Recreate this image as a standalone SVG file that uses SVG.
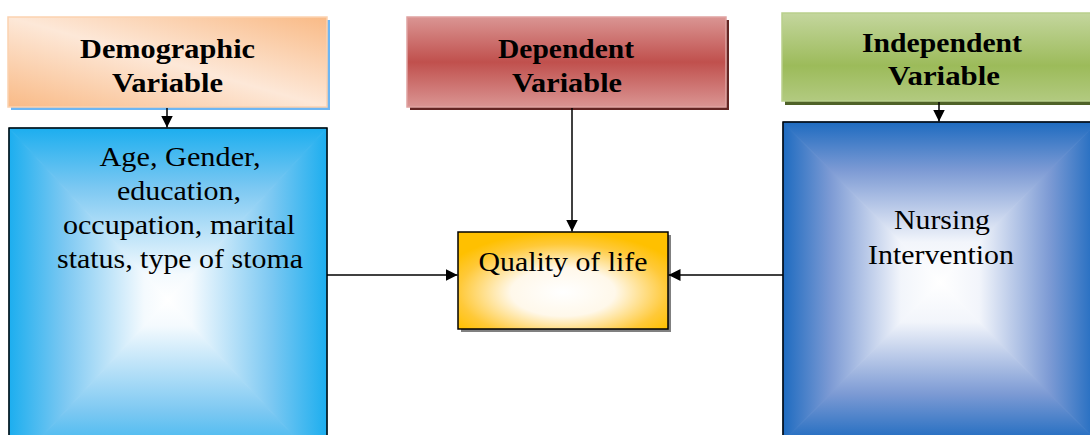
<svg xmlns="http://www.w3.org/2000/svg" width="1090" height="435" viewBox="0 0 1090 435">
<style>
.t{font-family:"Liberation Serif","Times New Roman",serif;fill:#000;text-anchor:middle}
.h{font-size:28px;font-weight:bold}
.r{font-size:27px}
.con{stroke:#000;stroke-width:1.5;fill:none}
.box{stroke:#000;stroke-width:1.5;fill:none}
</style>
<defs>
<marker id="ah" viewBox="0 0 12 12" refX="12" refY="6" markerWidth="12" markerHeight="12" markerUnits="userSpaceOnUse" orient="auto">
<path d="M0,0 L12,6 L0,12 Z" fill="#000"/>
</marker>
<linearGradient id="gDemo" x1="1" y1="0" x2="0" y2="1">
<stop offset="0" stop-color="#F9BA86"/>
<stop offset="0.5" stop-color="#FDE8D8"/>
<stop offset="1" stop-color="#F9BA86"/>
</linearGradient>
<linearGradient id="gDep" x1="0" y1="0" x2="0" y2="1">
<stop offset="0" stop-color="#DA9593"/>
<stop offset="0.5" stop-color="#C0504D"/>
<stop offset="1" stop-color="#DA9593"/>
</linearGradient>
<linearGradient id="gInd" x1="0" y1="0" x2="0" y2="1">
<stop offset="0" stop-color="#C4D69E"/>
<stop offset="0.6" stop-color="#9CBB5A"/>
<stop offset="1" stop-color="#B2CA80"/>
</linearGradient>
<linearGradient id="lbT" gradientUnits="userSpaceOnUse" x1="0" y1="128" x2="0" y2="300">
<stop offset="0" stop-color="#1CAEEF"/><stop offset="0.35" stop-color="#7CC8F2"/><stop offset="0.85" stop-color="#F4FAFE"/><stop offset="1" stop-color="#FFFFFF"/>
</linearGradient>
<linearGradient id="lbB" gradientUnits="userSpaceOnUse" x1="0" y1="472" x2="0" y2="300">
<stop offset="0" stop-color="#1CAEEF"/><stop offset="0.35" stop-color="#7CC8F2"/><stop offset="0.85" stop-color="#F4FAFE"/><stop offset="1" stop-color="#FFFFFF"/>
</linearGradient>
<linearGradient id="lbL" gradientUnits="userSpaceOnUse" x1="9" y1="0" x2="168" y2="0">
<stop offset="0" stop-color="#1CAEEF"/><stop offset="0.35" stop-color="#7CC8F2"/><stop offset="0.85" stop-color="#F4FAFE"/><stop offset="1" stop-color="#FFFFFF"/>
</linearGradient>
<linearGradient id="lbR" gradientUnits="userSpaceOnUse" x1="327" y1="0" x2="168" y2="0">
<stop offset="0" stop-color="#1CAEEF"/><stop offset="0.35" stop-color="#7CC8F2"/><stop offset="0.85" stop-color="#F4FAFE"/><stop offset="1" stop-color="#FFFFFF"/>
</linearGradient>
<linearGradient id="rbT" gradientUnits="userSpaceOnUse" x1="0" y1="122" x2="0" y2="282">
<stop offset="0" stop-color="#1E6BC0"/><stop offset="0.3" stop-color="#7C9AD4"/><stop offset="0.75" stop-color="#F2F5FB"/><stop offset="1" stop-color="#FFFFFF"/>
</linearGradient>
<linearGradient id="rbB" gradientUnits="userSpaceOnUse" x1="0" y1="442" x2="0" y2="282">
<stop offset="0" stop-color="#1E6BC0"/><stop offset="0.3" stop-color="#7C9AD4"/><stop offset="0.75" stop-color="#F2F5FB"/><stop offset="1" stop-color="#FFFFFF"/>
</linearGradient>
<linearGradient id="rbL" gradientUnits="userSpaceOnUse" x1="783" y1="0" x2="940" y2="0">
<stop offset="0" stop-color="#1E6BC0"/><stop offset="0.3" stop-color="#7C9AD4"/><stop offset="0.75" stop-color="#F2F5FB"/><stop offset="1" stop-color="#FFFFFF"/>
</linearGradient>
<linearGradient id="rbR" gradientUnits="userSpaceOnUse" x1="1097" y1="0" x2="940" y2="0">
<stop offset="0" stop-color="#1E6BC0"/><stop offset="0.3" stop-color="#7C9AD4"/><stop offset="0.75" stop-color="#F2F5FB"/><stop offset="1" stop-color="#FFFFFF"/>
</linearGradient>
<radialGradient id="gQ" cx="0.5" cy="0.62" r="0.62">
<stop offset="0" stop-color="#FFFFFF"/>
<stop offset="0.4" stop-color="#FFF8EA"/>
<stop offset="0.8" stop-color="#FFC938"/>
<stop offset="1" stop-color="#FFC000"/>
</radialGradient>
</defs>

<g id="demographic-variable">
<rect x="11" y="20" width="319" height="90" fill="#6DB6F3"/>
<rect x="8" y="17" width="319" height="90" fill="url(#gDemo)" stroke="#FBD2B0" stroke-width="1.5"/>
<text class="t h" x="167.5" y="58" textLength="175" lengthAdjust="spacingAndGlyphs">Demographic</text>
<text class="t h" x="167.5" y="92" textLength="111" lengthAdjust="spacingAndGlyphs">Variable</text>
</g>

<g id="dependent-variable">
<rect x="410" y="20" width="319" height="90" fill="#632523"/>
<rect x="407" y="17" width="319" height="90" fill="url(#gDep)" stroke="#DFA3A1" stroke-width="1.5"/>
<text class="t h" x="566" y="58" textLength="136" lengthAdjust="spacingAndGlyphs">Dependent</text>
<text class="t h" x="567" y="92" textLength="110" lengthAdjust="spacingAndGlyphs">Variable</text>
</g>

<g id="independent-variable">
<rect x="785" y="16" width="320" height="89" fill="#4F6228"/>
<rect x="782" y="13" width="320" height="88" fill="url(#gInd)" stroke="#B9D08C" stroke-width="1.5"/>
<text class="t h" x="942" y="52" textLength="160" lengthAdjust="spacingAndGlyphs">Independent</text>
<text class="t h" x="944" y="85" textLength="112" lengthAdjust="spacingAndGlyphs">Variable</text>
</g>

<g id="demographic-factors">
<polygon points="9,128 327,128 168,300" fill="url(#lbT)" stroke="url(#lbT)" stroke-width="1"/>
<polygon points="9,472 327,472 168,300" fill="url(#lbB)" stroke="url(#lbB)" stroke-width="1"/>
<polygon points="9,128 9,472 168,300" fill="url(#lbL)" stroke="url(#lbL)" stroke-width="1"/>
<polygon points="327,128 327,472 168,300" fill="url(#lbR)" stroke="url(#lbR)" stroke-width="1"/>
<rect class="box" x="9" y="128" width="318" height="344"/>
<text class="t r" x="180" y="166" textLength="161" lengthAdjust="spacingAndGlyphs">Age, Gender,</text>
<text class="t r" x="179" y="200" textLength="124" lengthAdjust="spacingAndGlyphs">education,</text>
<text class="t r" x="179" y="234" textLength="232" lengthAdjust="spacingAndGlyphs">occupation, marital</text>
<text class="t r" x="180" y="268" textLength="246" lengthAdjust="spacingAndGlyphs">status, type of stoma</text>
</g>

<g id="nursing-intervention">
<polygon points="783,122 1097,122 940,282" fill="url(#rbT)" stroke="url(#rbT)" stroke-width="1"/>
<polygon points="783,442 1097,442 940,282" fill="url(#rbB)" stroke="url(#rbB)" stroke-width="1"/>
<polygon points="783,122 783,442 940,282" fill="url(#rbL)" stroke="url(#rbL)" stroke-width="1"/>
<polygon points="1097,122 1097,442 940,282" fill="url(#rbR)" stroke="url(#rbR)" stroke-width="1"/>
<rect class="box" x="783" y="122" width="314" height="320"/>
<text class="t r" x="942" y="229" textLength="96" lengthAdjust="spacingAndGlyphs">Nursing</text>
<text class="t r" x="941" y="264" textLength="146" lengthAdjust="spacingAndGlyphs">Intervention</text>
</g>

<g id="quality-of-life">
<rect x="461" y="235" width="210" height="97" fill="#808080"/>
<rect x="458" y="232" width="210" height="97" fill="url(#gQ)" stroke="#000" stroke-width="1.5"/>
<text class="t r" x="563" y="271" textLength="169" lengthAdjust="spacingAndGlyphs">Quality of life</text>
</g>

<g id="connectors">
<line class="con" x1="167" y1="108" x2="167" y2="127.5" marker-end="url(#ah)"/>
<line class="con" x1="939" y1="102" x2="939" y2="121.5" marker-end="url(#ah)"/>
<line class="con" x1="572" y1="108" x2="572" y2="231.5" marker-end="url(#ah)"/>
<line class="con" x1="327" y1="275" x2="457.5" y2="275" marker-end="url(#ah)"/>
<line class="con" x1="783" y1="275" x2="668.5" y2="275" marker-end="url(#ah)"/>
</g>
</svg>
